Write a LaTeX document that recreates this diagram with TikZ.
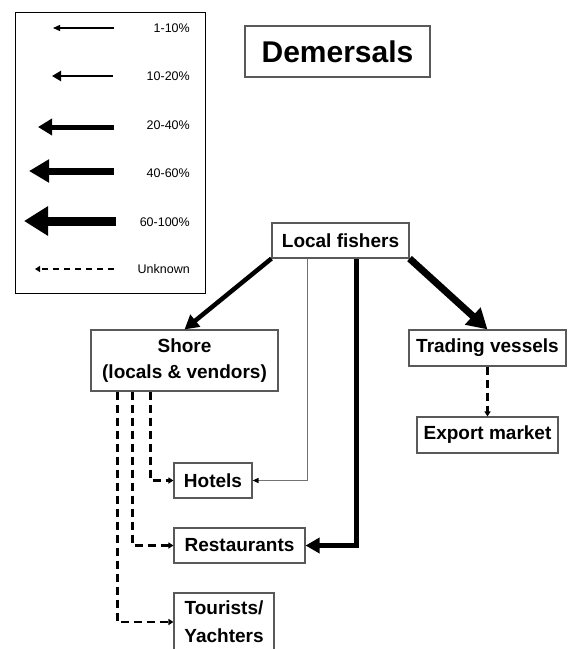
\documentclass[tikz,border=0pt]{standalone}
\usepackage{fontspec}
\setmainfont{Liberation Sans}
\usetikzlibrary{arrows.meta,calc}
\tikzset{
  box/.style={draw=black!65, line width=1.1pt, inner sep=0pt, font=\bfseries\fontsize{19}{26}\selectfont, align=center},
  leglabel/.style={anchor=east, inner sep=0pt, font=\fontsize{12.5}{14}\selectfont},
  pa/.style={line width=1.2pt, -{Triangle[length=7pt,width=6pt]}},
  pb/.style={line width=2.6pt, -{Triangle[length=9pt,width=10pt]}},
  pc/.style={line width=4.5pt, -{Triangle[length=14pt,width=15pt]}},
  pd/.style={line width=7pt, -{Triangle[length=20pt,width=22pt]}},
  pe/.style={line width=9pt, -{Triangle[length=24pt,width=28pt]}},
  unk/.style={line width=2.2pt, dash pattern=on 8pt off 5pt, -{Triangle[length=5pt,width=6pt]}},
  greyline/.style={draw=black!55, line width=1.4pt, -{Triangle[length=6pt,width=5pt,color=black]}},
}
\begin{document}
\begin{tikzpicture}[x=1pt,y=-1pt]
\useasboundingbox (0,0) rectangle (568,649);
\clip (0,0) rectangle (568,649);
% legend
\node[draw=black, line width=1pt, minimum width=190pt, minimum height=281pt, inner sep=0pt] (legend) at (110,152.5) {};
\node[leglabel] (l1) at (190,28) {1-10\%};
\node[leglabel] (l2) at (190,76) {10-20\%};
\node[leglabel] (l3) at (190,125) {20-40\%};
\node[leglabel] (l4) at (190,173) {40-60\%};
\node[leglabel] (l5) at (190,222) {60-100\%};
\node[leglabel] (l6) at (190,269) {Unknown};
\coordinate (a1s) at (114,28); \coordinate (a1e) at (53,28);
\coordinate (a2s) at (113,76); \coordinate (a2e) at (52,76);
\coordinate (a3s) at (114,127); \coordinate (a3e) at (38,127);
\coordinate (a4s) at (114,171); \coordinate (a4e) at (29,171);
\coordinate (a5s) at (116,221); \coordinate (a5e) at (24,221);
\coordinate (a6s) at (114,269); \coordinate (a6e) at (35,269);
\draw[pa] (a1s) -- (a1e);
\draw[pb] (a2s) -- (a2e);
\draw[pc, line width=5pt, -{Triangle[length=14pt,width=16pt]}] (a3s) -- (a3e);
\draw[pd] (a4s) -- (a4e);
\draw[pe] (a5s) -- (a5e);
\draw[unk, dash pattern=on 6pt off 5pt] (a6s) -- (a6e);
% title
\node[box, minimum width=185pt, minimum height=51pt, font=\bfseries\fontsize{30}{34}\selectfont] (title) at (337.5,51.5) {Demersals};
% boxes
\node[box, minimum width=137pt, minimum height=35pt] (lf) at (340.5,240.5) {Local fishers};
\node[box, minimum width=157pt, minimum height=36pt] (tv) at (487.5,348) {Trading vessels};
\node[box, minimum width=141pt, minimum height=36pt] (em) at (487.5,435) {Export market};
\node[box, minimum width=187pt, minimum height=61pt] (shore) at (184.5,360.5) {Shore\\(locals \& vendors)};
\node[box, minimum width=78pt, minimum height=35pt] (hotels) at (213,480.5) {Hotels};
\node[box, minimum width=131pt, minimum height=35pt] (rest) at (239.5,545.5) {Restaurants};
\node[box, minimum width=100pt, minimum height=58pt, font=\bfseries\fontsize{19}{28}\selectfont] (tour) at (224,622) {Tourists/\\Yachters};
% connectors
\draw[pc] (lf.south west) -- (shore.north);
\draw[pd] (lf.south east) -- (tv.north);
\draw[unk] (tv.south) -- (em.north);
\draw[greyline] ([xshift=36pt]lf.south west) |- (hotels.east);
\draw[pc] ([xshift=85pt]lf.south west) |- (rest.east);
\draw[unk] ([xshift=60pt]shore.south west) |- (hotels.west);
\draw[unk] ([xshift=42pt]shore.south west) |- (rest.west);
\draw[unk] ([xshift=27pt]shore.south west) |- (tour.west);
\end{tikzpicture}
\end{document}
